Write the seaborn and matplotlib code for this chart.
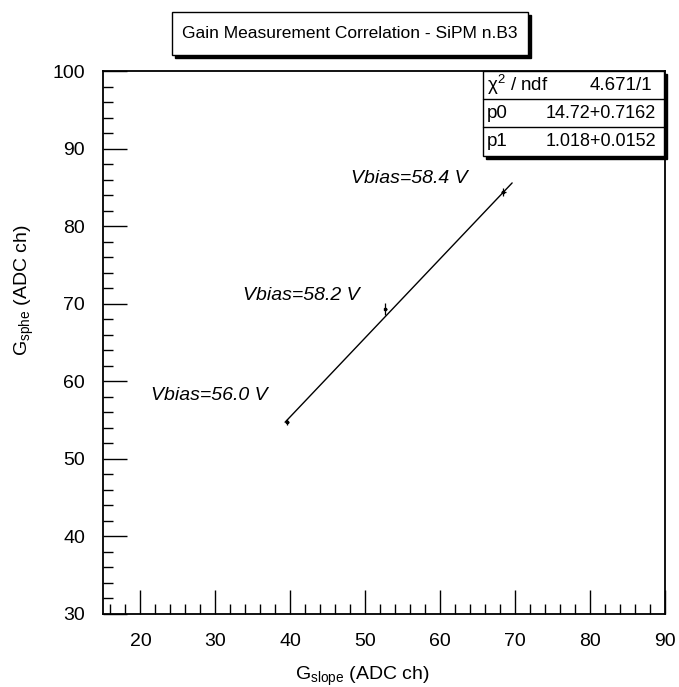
import matplotlib
matplotlib.use('Agg')
import matplotlib.pyplot as plt
import seaborn as sns
import pandas as pd
from matplotlib.patches import Rectangle
from matplotlib.ticker import MultipleLocator

# Data
g_slope = [39.6, 52.7, 68.4]
g_sphe = [54.8, 69.3, 84.4]
err_slope = [0.25, 0.25, 0.35]
err_sphe = [0.4, 0.8, 0.5]
vbias_labels = ['Vbias=56.0 V', 'Vbias=58.2 V', 'Vbias=58.4 V']
label_end_x = [37.0, 49.3, 63.7]
label_pos_y = [58.2, 71.1, 86.2]

# Fit results
p0 = 14.72
p1 = 1.018
fit_range = [39.3, 69.6]
stats_rows = [('χ$^2$ / ndf', '4.671/1'), ('p0', '14.72+0.7162'), ('p1', '1.018+0.0152')]

sns.set_style('ticks')
plt.rcParams['font.family'] = ['Liberation Sans', 'DejaVu Sans']
plt.rcParams['mathtext.fontset'] = 'custom'
plt.rcParams['mathtext.rm'] = 'Liberation Sans'
plt.rcParams['mathtext.it'] = 'Liberation Sans:italic'
plt.rcParams['text.color'] = 'black'
plt.rcParams['xtick.color'] = 'black'
plt.rcParams['ytick.color'] = 'black'
plt.rcParams['axes.labelcolor'] = 'black'

W, H = 679, 687
fig = plt.figure(figsize=(W / 100, H / 100), dpi=100)

def fx(px):
    return px / W

def fy(py):
    return 1 - py / H

ax = fig.add_axes([fx(103), fy(614), fx(665) - fx(103), fy(71) - fy(614)])

df_fit = pd.DataFrame({'x': fit_range})
df_fit['y'] = p0 + p1 * df_fit['x']
sns.lineplot(data=df_fit, x='x', y='y', ax=ax, color='black', lw=1.0)
ax.errorbar(g_slope, g_sphe, xerr=err_slope, yerr=err_sphe, fmt='s', ms=2,
            color='black', lw=0.9, capsize=0)

for lab, tx, ty in zip(vbias_labels, label_end_x, label_pos_y):
    ax.text(tx, ty, lab, fontsize=14, style='italic', ha='right', va='center')

ax.set_xlim(15, 90)
ax.set_ylim(30, 100)
ax.xaxis.set_major_locator(MultipleLocator(10))
ax.xaxis.set_minor_locator(MultipleLocator(2))
ax.yaxis.set_major_locator(MultipleLocator(10))
ax.yaxis.set_minor_locator(MultipleLocator(2))
ax.tick_params(which='major', direction='in', length=17, width=1.0, labelsize=14,
               top=False, right=False)
ax.tick_params(which='minor', direction='in', length=7, width=1.0, top=False, right=False)
ax.tick_params(axis='x', which='major', pad=14)
ax.tick_params(axis='y', which='major', pad=13)
for s in ax.spines.values():
    s.set_linewidth(1.3)
    s.set_color('black')
ax.set_xlabel('')
ax.set_ylabel('')

fig.text(fx(295), fy(676), r'G$_{\mathrm{slope}}$ (ADC ch)', fontsize=14,
         ha='left', va='center')
fig.text(fx(24), fy(290), r'G$_{\mathrm{sphe}}$ (ADC ch)', fontsize=14,
         ha='center', va='center', rotation=90)

# Title box with shadow
fig.patches.append(Rectangle((fx(175), fy(58)), fx(528) - fx(172), fy(12) - fy(55),
                             transform=fig.transFigure, facecolor='black',
                             edgecolor='black', lw=1.0, zorder=1))
fig.patches.append(Rectangle((fx(172), fy(55)), fx(528) - fx(172), fy(12) - fy(55),
                             transform=fig.transFigure, facecolor='white',
                             edgecolor='black', lw=1.0, zorder=2))
fig.text(fx(350), fy(34), 'Gain Measurement Correlation - SiPM n.B3', fontsize=12.5,
         ha='center', va='center', zorder=3)

# Stats box
bx0, bx1, by0, by1 = 483, 664, 71, 156
fig.patches.append(Rectangle((fx(bx0 + 3), fy(by1 + 3)), fx(bx1) - fx(bx0), fy(by0) - fy(by1),
                             transform=fig.transFigure, facecolor='black',
                             edgecolor='black', lw=1.0, zorder=4))
fig.patches.append(Rectangle((fx(bx0), fy(by1)), fx(bx1) - fx(bx0), fy(by0) - fy(by1),
                             transform=fig.transFigure, facecolor='white',
                             edgecolor='black', lw=1.0, zorder=5))
row_edges = [71, 99, 127, 156]
value_right = [652, 656, 656]
for i, (name, val) in enumerate(stats_rows):
    cy = (row_edges[i] + row_edges[i + 1]) / 2
    fig.text(fx(487), fy(cy), name, fontsize=13.5, ha='left', va='center', zorder=6)
    fig.text(fx(value_right[i]), fy(cy), val, fontsize=13.5 if i == 0 else 13,
             ha='right', va='center', zorder=6)
    if i:
        fig.lines.append(plt.Line2D([fx(bx0), fx(bx1)], [fy(row_edges[i])] * 2,
                                    transform=fig.transFigure, color='black', lw=1.0, zorder=6))

fig.savefig('out.png', dpi=100)
